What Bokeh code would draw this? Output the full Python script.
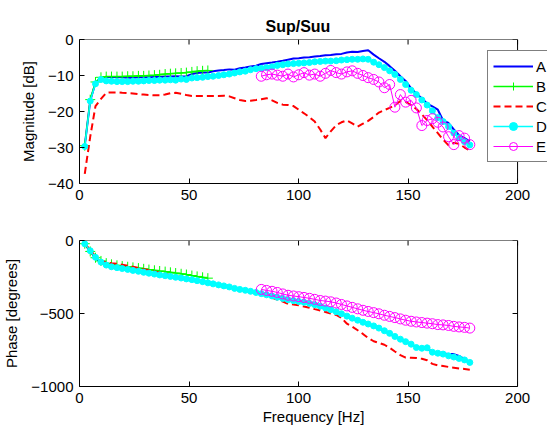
from bokeh.plotting import figure
from bokeh.layouts import column
from bokeh.models import Legend, LegendItem, FixedTicker, Range1d, BoxAnnotation
from bokeh.embed import file_html
from bokeh.resources import INLINE

# ---------------- data ----------------
freq = [2.4, 4.9, 7.3, 9.8, 12.2, 14.6, 17.1, 19.5, 22.0, 24.4,
        26.9, 29.3, 31.7, 34.2, 36.6, 39.1, 41.5, 43.9, 46.4, 48.8,
        51.3, 53.7, 56.2, 58.6, 61.0, 63.5, 65.9, 68.4, 70.8, 73.2,
        75.7, 78.1, 80.6, 83.0, 85.4, 87.9, 90.3, 92.8, 95.2, 97.7,
        100.1, 102.5, 105.0, 107.4, 109.9, 112.3, 114.7, 117.2, 119.6, 122.1,
        124.5, 127.0, 129.4, 131.8, 134.3, 136.7, 139.2, 141.6, 144.0, 146.5,
        148.9, 151.4, 153.8, 156.3, 158.7, 161.1, 163.6, 166.0, 168.5, 170.9,
        173.3, 175.8, 178.2]

freq_b = [2.4, 4.9, 7.3, 9.8, 12.2, 14.6, 17.1, 19.5, 22.0, 24.4,
          26.9, 29.3, 31.7, 34.2, 36.6, 39.1, 41.5, 43.9, 46.4, 48.8,
          51.3, 53.7, 56.2, 58.6]

freq_e = [83.0, 85.4, 87.9, 90.3, 92.8, 95.2, 97.7,
          100.1, 102.5, 105.0, 107.4, 109.9, 112.3, 114.7, 117.2, 119.6, 122.1,
          124.5, 127.0, 129.4, 131.8, 134.3, 136.7, 139.2, 141.6, 144.0, 146.5,
          148.9, 151.4, 153.8, 156.3, 158.7, 161.1, 163.6, 166.0, 168.5, 170.9,
          173.3, 175.8, 178.2]

mag_a = [-29.5, -17.0, -12.0, -10.6, -10.4, -10.4, -10.5, -10.5, -10.6, -10.6,
         -10.5, -10.5, -10.5, -10.4, -10.4, -10.3, -10.3, -10.2, -10.3, -10.2,
         -9.6, -9.3, -9.2, -9.2, -8.8, -8.6, -8.5, -8.3, -8.4, -8.0,
         -7.8, -7.5, -7.3, -6.8, -6.6, -6.4, -6.2, -5.9, -5.6, -5.3,
         -5.2, -5.0, -4.9, -4.7, -4.6, -4.4, -4.3, -4.1, -4.0, -3.6,
         -3.4, -3.5, -3.2, -3.0, -4.2, -5.2, -6.2, -7.4, -8.7, -10.2,
         -11.5, -13.6, -15.0, -16.4, -17.8, -18.6, -19.5, -22.5, -23.2, -25.0,
         -26.6, -27.4, -28.3]

mag_b = [-29.5, -16.7, -11.8, -10.5, -10.3, -10.3, -10.3, -10.3, -10.2, -10.2,
         -10.1, -10.1, -10.0, -9.9, -9.8, -9.6, -9.5, -9.4, -9.3, -9.2,
         -9.0, -8.8, -8.7, -8.6]

mag_c = [-37.3, -27.0, -18.5, -16.5, -14.8, -14.7, -14.7, -14.8, -14.9, -15.0,
         -15.2, -15.3, -15.4, -15.5, -15.5, -15.3, -14.9, -14.8, -15.1, -15.4,
         -15.7, -15.7, -15.7, -15.7, -15.7, -15.7, -15.6, -15.8, -16.3, -16.8,
         -17.1, -17.0, -16.8, -16.6, -16.3, -16.9, -17.6, -18.1, -18.2, -18.5,
         -19.5, -20.5, -21.6, -22.8, -25.0, -27.4, -25.5, -23.8, -23.0, -22.5,
         -23.3, -24.2, -23.4, -22.6, -21.5, -20.3, -19.6, -19.0, -18.3, -17.1,
         -17.3, -18.2, -19.3, -20.8, -22.4, -24.2, -26.0, -27.8, -29.4, -28.7,
         -29.0, -30.0, -30.8]

mag_d = [-29.7, -17.1, -12.3, -11.1, -11.5, -11.6, -11.7, -11.7, -11.7, -11.6,
         -11.6, -11.5, -11.4, -11.4, -11.3, -11.3, -11.2, -11.3, -11.0, -11.1,
         -10.7, -10.6, -10.5, -10.3, -10.2, -10.0, -9.8, -9.6, -9.3, -9.0,
         -8.8, -8.4, -8.1, -8.0, -7.8, -7.6, -7.2, -7.0, -6.8, -6.7,
         -6.6, -6.5, -6.4, -6.2, -6.1, -6.0, -6.0, -5.9, -5.7, -5.6,
         -5.5, -5.5, -5.4, -5.5, -6.3, -7.0, -7.8, -8.7, -9.7, -11.1,
         -12.5, -14.1, -15.3, -16.8, -18.2, -19.8, -21.7, -22.8, -24.2, -26.0,
         -27.3, -28.4, -29.3]

mag_e = [-10.2, -9.8, -9.6, -9.9, -10.2, -9.6, -10.4, -9.8, -9.2, -9.9,
         -9.6, -10.2, -9.4, -8.6, -9.2, -9.6, -9.0, -8.7, -9.4, -10.0,
         -10.6, -11.1, -11.8, -13.4, -12.5, -18.8, -15.3, -17.4, -16.9, -19.0,
         -23.9, -22.5, -22.0, -23.0, -24.3, -27.0, -29.2, -26.7, -27.4, -29.2]

ph_a = [-25, -75, -120, -152, -172, -183, -190, -196, -202, -208,
        -214, -221, -227, -233, -239, -244, -249, -255, -260, -266,
        -271, -278, -285, -293, -300, -307, -314, -321, -329, -336,
        -343, -351, -359, -367, -375, -383, -392, -400, -408, -414,
        -420, -426, -434, -443, -453, -465, -477, -490, -504, -520,
        -534, -548, -562, -574, -587, -602, -620, -638, -659, -678,
        -695, -712, -730, -740, -745, -760, -768, -774, -778, -778,
        -790, -812, -838]

ph_b = [-22, -75, -118, -140, -155, -163, -170, -175, -180, -184,
        -189, -194, -199, -204, -209, -213, -218, -223, -228, -233,
        -240, -246, -252, -258]

ph_c = [-20, -65, -108, -138, -150, -155, -160, -166, -173, -180,
        -188, -196, -204, -212, -220, -228, -236, -245, -252, -259,
        -266, -273, -280, -288, -296, -303, -311, -319, -327, -335,
        -343, -352, -360, -370, -380, -392, -405, -418, -433, -438,
        -443, -452, -460, -470, -480, -490, -500, -510, -530, -570,
        -590, -615, -640, -668, -690, -702, -714, -735, -760, -785,
        -802, -803, -805, -810, -820, -845, -855, -860, -866, -871,
        -876, -880, -885]

ph_d = [-23, -70, -115, -148, -168, -180, -186, -192, -198, -205,
        -211, -218, -224, -230, -236, -241, -246, -252, -257, -263,
        -268, -275, -282, -290, -297, -304, -311, -318, -328, -335,
        -341, -348, -356, -364, -372, -380, -389, -397, -406, -412,
        -418, -423, -431, -440, -450, -462, -474, -488, -502, -518,
        -532, -546, -560, -572, -585, -600, -618, -636, -657, -676,
        -693, -710, -733, -738, -735, -765, -772, -778, -790, -798,
        -808, -818, -835]

ph_e = [-335, -342, -348, -356, -366, -375, -380, -385, -390, -396,
        -403, -411, -415, -420, -428, -438, -448, -458, -468, -478,
        -486, -494, -502, -512, -520, -528, -537, -546, -553, -558,
        -562, -566, -570, -576, -578, -582, -588, -592, -595, -600]

series_names = ["A", "B", "C", "D", "E"]
x_ticks = [0, 50, 100, 150, 200]
mag_ticks = [-40, -30, -20, -10, 0]
ph_ticks = [-1000, -500, 0]

FONT = "Liberation Sans"
FS = "15px"
W = 547
AX_LEFT = 78      # frame left (px)
AX_RIGHT = 517    # where x = 200 lies (px)
# frames run to the window edge so the legend may overlap the box edge, as in the original
X_END = x_ticks[-1] * (W - AX_LEFT) / (AX_RIGHT - AX_LEFT)


def style_axis(ax, ticks):
    ax.ticker = FixedTicker(ticks=ticks)
    ax.axis_line_color = "black"
    ax.axis_line_width = 1
    ax.major_tick_line_color = "black"
    ax.major_tick_in = 5
    ax.major_tick_out = 0
    ax.minor_tick_line_color = None
    ax.major_label_text_font = FONT
    ax.major_label_text_color = "black"
    ax.major_label_text_font_size = FS
    ax.major_label_standoff = 6
    ax.axis_label_text_font = FONT
    ax.axis_label_text_font_size = FS
    ax.axis_label_text_font_style = "normal"
    ax.axis_label_text_color = "black"


def make_fig(height, yticks, top, bottom):
    p = figure(width=W, height=height, output_backend="svg", toolbar_location=None,
               x_range=Range1d(x_ticks[0], X_END), y_range=Range1d(yticks[0], yticks[-1]),
               min_border_left=AX_LEFT, min_border_right=0,
               min_border_top=top, min_border_bottom=bottom)
    p.xgrid.visible = False
    p.ygrid.visible = False
    p.background_fill_color = "white"
    p.border_fill_color = "white"
    p.outline_line_color = None
    style_axis(p.xaxis[0], x_ticks)
    style_axis(p.yaxis[0], yticks)
    p.xaxis[0].bounds = (x_ticks[0], x_ticks[-1])
    return p


def box(p, yticks):
    # inward ticks on the top and right edges and the box outline (MATLAB "box on")
    p.ray(x=x_ticks, y=[yticks[-1]] * len(x_ticks), length=5, length_units="screen",
          angle=-90, angle_units="deg", line_color="black", line_width=1)
    p.ray(x=[x_ticks[-1]] * len(yticks), y=yticks, length=5, length_units="screen",
          angle=180, angle_units="deg", line_color="black", line_width=1)
    p.add_layout(BoxAnnotation(left=x_ticks[0], right=x_ticks[-1], bottom=yticks[0], top=yticks[-1],
                               fill_alpha=0, line_color="black", line_width=1, line_alpha=1))


# ---------------- magnitude ----------------
p1 = make_fig(212, mag_ticks, 39, 29)
p1.title.text = "Sup/Suu"
p1.title.align = "left"
p1.title.offset = 186
p1.title.standoff = 10
p1.title.text_font = FONT
p1.title.text_font_size = "16px"
p1.title.text_font_style = "bold"
p1.title.text_color = "black"
p1.yaxis[0].axis_label = "Magnitude [dB]"
p1.yaxis[0].axis_label_standoff = 8

ra = p1.line(freq, mag_a, line_color="#0000ff", line_width=2)
rb = p1.line(freq_b, mag_b, line_color="#00ff00", line_width=1.5)
rbm = p1.scatter(freq_b, mag_b, marker="cross", size=10, line_color="#00ff00", line_width=1)
rc = p1.line(freq, mag_c, line_color="#ff0000", line_width=2, line_dash="7 4")
rd = p1.line(freq, mag_d, line_color="#00ffff", line_width=1.5)
rdm = p1.scatter(freq, mag_d, marker="circle", size=6, line_color="#00ffff", fill_color="#00ffff")
re_ = p1.line(freq_e, mag_e, line_color="#ff00ff", line_width=1)
rem = p1.scatter(freq_e, mag_e, marker="circle", size=10, line_color="#ff00ff", fill_color=None, line_width=1)
box(p1, mag_ticks)

legend = Legend(items=[
    LegendItem(label=series_names[0], renderers=[ra]),
    LegendItem(label=series_names[1], renderers=[rb, rbm]),
    LegendItem(label=series_names[2], renderers=[rc]),
    LegendItem(label=series_names[3], renderers=[rd, rdm]),
    LegendItem(label=series_names[4], renderers=[re_, rem]),
], location=(408, 21))
legend.border_line_color = "black"
legend.border_line_width = 1
legend.background_fill_color = "white"
legend.background_fill_alpha = 1
legend.padding = 5
legend.spacing = 0
legend.margin = 0
legend.label_height = 20
legend.glyph_height = 20
legend.glyph_width = 40
legend.label_standoff = 3
legend.label_text_font = FONT
legend.label_text_font_size = FS
legend.label_text_color = "black"
p1.add_layout(legend)

# ---------------- phase ----------------
p2 = make_fig(216, ph_ticks, 28, 42)
p2.xaxis[0].axis_label = "Frequency [Hz]"
p2.xaxis[0].axis_label_standoff = 2
p2.yaxis[0].axis_label = "Phase [degrees]"
p2.yaxis[0].axis_label_standoff = 8

p2.line(freq, ph_a, line_color="#0000ff", line_width=2)
p2.line(freq_b, ph_b, line_color="#00ff00", line_width=1.5)
p2.scatter(freq_b, ph_b, marker="cross", size=10, line_color="#00ff00", line_width=1)
p2.line(freq, ph_c, line_color="#ff0000", line_width=2, line_dash="7 4")
p2.line(freq, ph_d, line_color="#00ffff", line_width=1.5)
p2.scatter(freq, ph_d, marker="circle", size=6, line_color="#00ffff", fill_color="#00ffff")
p2.line(freq_e, ph_e, line_color="#ff00ff", line_width=1)
p2.scatter(freq_e, ph_e, marker="circle", size=10, line_color="#ff00ff", fill_color=None, line_width=1)
box(p2, ph_ticks)

layout = column(p1, p2, spacing=0)

open("out.html", "w").write(file_html(layout, INLINE))
